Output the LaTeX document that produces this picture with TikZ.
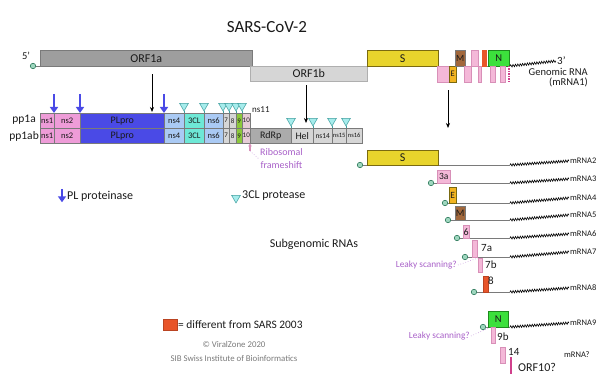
\documentclass[tikz,border=0pt]{standalone}
\usepackage{fontspec}
\setmainfont{Carlito}
\usepackage{tikz}
\usetikzlibrary{positioning,arrows.meta,shapes.geometric,decorations.pathmorphing}
\definecolor{scGray}{HTML}{7A7A7A}
\definecolor{scOrfA}{HTML}{9E9E9E}
\definecolor{scOrfB}{HTML}{D6D6D6}
\definecolor{scS}{HTML}{E8D42C}
\definecolor{scSD}{HTML}{7A6A10}
\definecolor{scE}{HTML}{F2B420}
\definecolor{scM}{HTML}{A2683C}
\definecolor{scPink}{HTML}{F4B8D8}
\definecolor{scPinkD}{HTML}{D890B8}
\definecolor{scRed}{HTML}{E8552A}
\definecolor{scN}{HTML}{3CE03C}
\definecolor{scND}{HTML}{1E8A1E}
\definecolor{scNs}{HTML}{EE9CD8}
\definecolor{scPL}{HTML}{4A4AE6}
\definecolor{scBlueL}{HTML}{AACAF4}
\definecolor{scCL}{HTML}{6EE8D6}
\definecolor{scSmall}{HTML}{D6D6D6}
\definecolor{scNine}{HTML}{8CC83C}
\definecolor{scTen}{HTML}{E6CCD6}
\definecolor{scRdRp}{HTML}{ABABAB}
\definecolor{scTri}{HTML}{A6ECEC}
\definecolor{scTriD}{HTML}{3E9E9E}
\definecolor{scCap}{HTML}{9ED6BE}
\definecolor{scCapD}{HTML}{2E7A5C}
\definecolor{scPurple}{HTML}{A860C8}
\definecolor{scMagenta}{HTML}{D0408C}
\definecolor{scText}{HTML}{1A1A1A}
\tikzset{
  sc-box/.style={
    draw=scGray, line width=0.5pt, inner sep=0pt, anchor=north west,
    minimum height=15pt, font=\fontsize{8.5}{9}\selectfont, text=scText
  },
  sc-orf/.style={sc-box, font=\fontsize{12}{13}\selectfont},
  sc-tiny/.style={sc-box, font=\fontsize{7}{7}\selectfont},
  sc-pink/.style={sc-box, draw=scPinkD, fill=scPink, minimum height=16pt},
  sc-tri/.style={regular polygon, regular polygon sides=3,
    shape border rotate=180, draw=scTriD, fill=scTri, line width=0.5pt,
    minimum size=10pt, inner sep=0pt},
  sc-stem/.style={draw=scTriD, line width=0.6pt},
  sc-pl/.style={-{Triangle[length=6pt,width=8pt]}, line width=2.6pt, draw=scPL},
  sc-flow/.style={-{Stealth[length=5pt,width=4pt]}, line width=0.7pt, draw=black},
  sc-fs/.style={-{Triangle[length=3pt,width=3.5pt]}, line width=1.2pt, draw=scPinkD},
  sc-line/.style={draw=scGray, line width=0.9pt},
  sc-wave/.style={draw=black, line width=0.6pt, decorate,
    decoration={snake, amplitude=1.2pt, segment length=2.4pt}},
  sc-orf10/.style={draw=scMagenta, line width=1.2pt},
  sc-cap/.style={circle, draw=scCapD, fill=scCap, line width=0.6pt,
    minimum size=5.5pt, inner sep=0pt},
  sc-label/.style={font=\fontsize{8.5}{9}\selectfont, text=scText, inner sep=1pt},
  sc-num/.style={sc-label, anchor=west, font=\fontsize{11}{12}\selectfont},
  sc-mrna/.style={sc-label, anchor=west},
  sc-note/.style={font=\fontsize{9.3}{10}\selectfont, text=scPurple, inner sep=1pt},
  sc-dot/.style={draw=scPurple!70, line width=0.6pt, dotted},
  sc-legend/.style={font=\fontsize{12}{14}\selectfont, text=scText, inner sep=1pt},
  sc-copy/.style={font=\fontsize{8.8}{10}\selectfont, text=scGray},
  sc-title/.style={font=\fontsize{17}{19}\selectfont, text=scText}
}

\begin{document}
\begin{tikzpicture}[x=1pt,y=-1pt]
\useasboundingbox (0,0) rectangle (600,387);

% genome
\node[sc-title] (title) at (267,27) {SARS-CoV-2};
\node[sc-cap] (cap0) at (33,66) {};
\node[sc-label, font=\fontsize{10.5}{11}\selectfont] (p5) at (26,56) {5'};
\coordinate (g3) at (510,66);
\draw[sc-line] (cap0) -- (g3);
\node[sc-orf, fill=scOrfA, minimum width=212pt, minimum height=16pt] (orf1a) at (40,50) {ORF1a};
\node[sc-orf, fill=scOrfB, draw=scGray!60, minimum width=117pt] (orf1b) at (250,66) {ORF1b};
\node[sc-orf, fill=scS, draw=scSD, minimum width=71pt, minimum height=16pt] (gS) at (367,50) {S};
\node[sc-pink, minimum width=12pt] (g3a) at (437,66) {};
\node[sc-box, fill=scE, draw=scSD, minimum width=7pt, minimum height=16pt] (gE) at (449,66) {E};
\node[sc-box, fill=scM, font=\fontsize{9.5}{10}\selectfont, minimum width=10pt, minimum height=16pt] (gM) at (455,50) {M};
\node[sc-pink, minimum width=7pt] (g6) at (464,66) {};
\node[sc-pink, minimum width=7pt] (g7a) at (471,50) {};
\node[sc-pink, minimum width=3pt] (g7b) at (478,66) {};
\node[sc-box, fill=scRed, draw=scRed, minimum width=4pt, minimum height=16pt] (g8) at (482,50) {};
\node[sc-box, fill=scN, draw=scND, font=\fontsize{10.5}{11}\selectfont, minimum width=21pt, minimum height=16pt] (gN) at (488,50) {N};
\node[sc-pink, minimum width=5pt] (g9b) at (490,66) {};
\node[sc-pink, minimum width=5pt] (g14) at (500,66) {};
\coordinate (g10) at (509,66);
\draw[sc-orf10, dash pattern=on 1.5pt off 1pt] (g10) -- ++(0,16);
\node[sc-label, font=\fontsize{11}{12}\selectfont, anchor=west] (g3p) at (556,61) {3'};
\draw[sc-wave] (g3) -- (g3p.west);
\node[sc-label, font=\fontsize{10.5}{10.5}\selectfont, align=right, anchor=north east] (grna) at (589,67) {Genomic RNA\\(mRNA1)};

% cleavage arrows
\coordinate (cut1) at (152,112);
\draw[sc-flow, shorten <=8pt] (orf1a.south -| cut1) -- (cut1);
\coordinate (cut2) at (306,123);
\draw[sc-flow, shorten <=4pt] (orf1b.south -| cut2) -- (cut2);
\coordinate (sgArr) at (448,128);
\draw[sc-flow, shorten <=8pt] (gE.south -| sgArr) -- (sgArr);

% polyproteins
\node[sc-label, font=\fontsize{11.5}{12}\selectfont, anchor=east] (pp1a) at (37,120) {pp1a};
\node[sc-label, font=\fontsize{11.5}{12}\selectfont, anchor=east] (pp1ab) at (40,136) {pp1ab};
\node[sc-box, fill=scNs, minimum width=14pt] (ns1a) at (40,113) {ns1};
\node[sc-box, fill=scNs, minimum width=26pt] (ns2a) at (54,113) {ns2};
\node[sc-box, fill=scPL, font=\fontsize{10}{11}\selectfont, minimum width=84pt] (plpa) at (80,113) {PLpro};
\node[sc-box, fill=scBlueL, minimum width=20pt] (ns4a) at (164,113) {ns4};
\node[sc-box, fill=scCL, minimum width=20pt] (cla) at (184,113) {3CL};
\node[sc-box, fill=scBlueL, minimum width=19pt] (ns6a) at (204,113) {ns6};
\node[sc-tiny, fill=scSmall, minimum width=6pt] (ns7a) at (223,113) {7};
\node[sc-tiny, fill=scSmall, minimum width=7pt] (ns8a) at (229,113) {8};
\node[sc-tiny, fill=scNine, minimum width=6pt] (ns9a) at (236,113) {9};
\node[sc-tiny, fill=scTen, minimum width=8pt] (ns10a) at (242,113) {10};
\node[sc-label, font=\fontsize{9}{10}\selectfont, anchor=west] (ns11) at (251,110) {ns11};
\node[sc-box, fill=scNs, minimum width=14pt] (ns1b) at (40,128) {ns1};
\node[sc-box, fill=scNs, minimum width=26pt] (ns2b) at (54,128) {ns2};
\node[sc-box, fill=scPL, font=\fontsize{10}{11}\selectfont, minimum width=84pt] (plpb) at (80,128) {PLpro};
\node[sc-box, fill=scBlueL, minimum width=20pt] (ns4b) at (164,128) {ns4};
\node[sc-box, fill=scCL, minimum width=20pt] (clb) at (184,128) {3CL};
\node[sc-box, fill=scBlueL, minimum width=19pt] (ns6b) at (204,128) {ns6};
\node[sc-tiny, fill=scSmall, minimum width=6pt] (ns7b) at (223,128) {7};
\node[sc-tiny, fill=scSmall, minimum width=7pt] (ns8b) at (229,128) {8};
\node[sc-tiny, fill=scNine, minimum width=6pt] (ns9b) at (236,128) {9};
\node[sc-tiny, fill=scTen, minimum width=8pt] (ns10b) at (242,128) {10};
\node[sc-box, fill=scRdRp, font=\fontsize{10}{11}\selectfont, minimum width=41pt] (rdrp) at (250,128) {RdRp};
\node[sc-box, fill=scSmall, font=\fontsize{10}{11}\selectfont, minimum width=22pt] (hel) at (291,128) {Hel};
\node[sc-box, fill=scSmall, font=\fontsize{7.5}{8}\selectfont, minimum width=19pt] (ns14) at (313,128) {ns14};
\node[sc-box, fill=scSmall, font=\fontsize{6.5}{7}\selectfont, minimum width=14pt] (ns15) at (332,128) {ns15};
\node[sc-box, fill=scSmall, font=\fontsize{6.5}{7}\selectfont, minimum width=16pt] (ns16) at (346,128) {ns16};

% PL proteinase sites
\coordinate (pl1) at (54,94);
\draw[sc-pl] (pl1) -- (pl1 |- ns1a.north);
\coordinate (pl2) at (80,94);
\draw[sc-pl] (pl2) -- (pl2 |- ns2a.north);
\coordinate (pl3) at (164,94);
\draw[sc-pl] (pl3) -- (pl3 |- plpa.north);

% 3CL protease sites
\node[sc-tri] (t1) at (184,106) {};
\draw[sc-stem] (t1.south) -- (t1 |- cla.north);
\node[sc-tri] (t2) at (204,106) {};
\draw[sc-stem] (t2.south) -- (t2 |- cla.north);
\node[sc-tri] (t3) at (223,106) {};
\draw[sc-stem] (t3.south) -- (t3 |- ns6a.north);
\node[sc-tri] (t4) at (229,106) {};
\draw[sc-stem] (t4.south) -- (t4 |- ns7a.north);
\node[sc-tri] (t5) at (236,106) {};
\draw[sc-stem] (t5.south) -- (t5 |- ns8a.north);
\node[sc-tri] (t6) at (242,106) {};
\draw[sc-stem] (t6.south) -- (t6 |- ns9a.north);
\node[sc-tri] (t7) at (291,121) {};
\draw[sc-stem] (t7.south) -- (t7 |- hel.north);
\node[sc-tri] (t8) at (313,121) {};
\draw[sc-stem] (t8.south) -- (t8 |- hel.north);
\node[sc-tri] (t9) at (332,121) {};
\draw[sc-stem] (t9.south) -- (t9 |- ns14.north);
\node[sc-tri] (t10) at (346,121) {};
\draw[sc-stem] (t10.south) -- (t10 |- ns15.north);

% ribosomal frameshift
\coordinate (fs) at (250,151);
\draw[sc-fs] (fs) -- (fs |- ns10b.south);
\node[sc-note, font=\fontsize{10}{13}\selectfont, align=center, anchor=west] (fstxt) at (259,159) {Ribosomal\\frameshift};
\draw[sc-dot] (fs) -- (fstxt.west);

% legend
\coordinate (lgpl) at (62,189);
\node[sc-legend, anchor=west] (lgpltxt) at (66,196) {PL proteinase};
\draw[sc-pl] (lgpl) -- (lgpl |- lgpltxt.south);
\node[sc-tri] (lgtri) at (236,198) {};
\node[sc-legend, anchor=west] (lgtritxt) at (241,196) {3CL protease};

% subgenomic RNAs
\node[sc-legend] (subg) at (314,244) {Subgenomic RNAs};

\node[sc-cap] (cap2) at (360,165) {};
\coordinate (j2) at (510,165);
\draw[sc-line] (cap2) -- (j2);
\node[sc-orf, fill=scS, draw=scSD, minimum width=71pt] (s2) at (367,150) {S};
\node[sc-mrna] (mrna2) at (569,161) {mRNA2};
\draw[sc-wave] (j2) -- (mrna2.west);

\node[sc-cap] (cap3) at (431,183) {};
\coordinate (j3) at (510,183);
\draw[sc-line] (cap3) -- (j3);
\node[sc-pink, font=\fontsize{9.5}{10}\selectfont, minimum width=13pt, minimum height=13pt] (b3a) at (437,170) {3a};
\node[sc-mrna] (mrna3) at (569,179) {mRNA3};
\draw[sc-wave] (j3) -- (mrna3.west);

\node[sc-cap] (cap4) at (445,203) {};
\coordinate (j4) at (510,203);
\draw[sc-line] (cap4) -- (j4);
\node[sc-box, fill=scE, draw=scSD, font=\fontsize{9.5}{10}\selectfont, minimum width=7pt, minimum height=16pt] (e4) at (449,187) {E};
\node[sc-mrna] (mrna4) at (569,198) {mRNA4};
\draw[sc-wave] (j4) -- (mrna4.west);

\node[sc-cap] (cap5) at (448,220) {};
\coordinate (j5) at (510,220);
\draw[sc-line] (cap5) -- (j5);
\node[sc-box, fill=scM, font=\fontsize{10}{10}\selectfont, minimum width=10pt, minimum height=14pt] (m5) at (455,206) {M};
\node[sc-mrna] (mrna5) at (569,215) {mRNA5};
\draw[sc-wave] (j5) -- (mrna5.west);

\node[sc-cap] (cap6) at (457,238) {};
\coordinate (j6) at (510,238);
\draw[sc-line] (cap6) -- (j6);
\node[sc-pink, font=\fontsize{10}{10}\selectfont, minimum width=6pt, minimum height=13pt] (b6) at (463,225) {6};
\node[sc-mrna] (mrna6) at (569,234) {mRNA6};
\draw[sc-wave] (j6) -- (mrna6.west);

\node[sc-cap] (cap7) at (465,257) {};
\coordinate (j7) at (510,257);
\draw[sc-line] (cap7) -- (j7);
\node[sc-pink, minimum width=5pt, minimum height=17pt] (b7a) at (472,240) {};
\node[sc-num] (l7a) at (480,248) {7a};
\node[sc-mrna] (mrna7) at (569,252) {mRNA7};
\draw[sc-wave] (j7) -- (mrna7.west);
\node[sc-pink, minimum width=4pt, minimum height=14pt] (b7b) at (478,258) {};
\node[sc-num] (l7b) at (484,265) {7b};
\node[sc-note, anchor=east] (leaky1) at (458,265) {Leaky scanning?};
\draw[sc-dot] (leaky1.east) -- (b7b.north west);

\node[sc-cap] (cap8) at (474,292) {};
\coordinate (j8) at (510,292);
\draw[sc-line] (cap8) -- (j8);
\node[sc-box, fill=scRed, draw=scRed!80!black, minimum width=5pt, minimum height=16pt] (b8) at (483,276) {};
\node[sc-num] (l8) at (487,281) {8};
\node[sc-mrna] (mrna8) at (569,288) {mRNA8};
\draw[sc-wave] (j8) -- (mrna8.west);

\node[sc-cap] (cap9) at (483,327) {};
\coordinate (j9) at (510,327);
\draw[sc-line] (cap9) -- (j9);
\node[sc-box, fill=scN, draw=scND, font=\fontsize{10.5}{11}\selectfont, minimum width=20pt, minimum height=16pt] (n9) at (488,311) {N};
\node[sc-mrna] (mrna9) at (569,323) {mRNA9};
\draw[sc-wave] (j9) -- (mrna9.west);
\node[sc-pink, minimum width=4pt, minimum height=16pt] (b9b) at (491,327) {};
\node[sc-num] (l9b) at (496,337) {9b};
\node[sc-note, anchor=east] (leaky2) at (471,336) {Leaky scanning?};
\draw[sc-dot] (leaky2.east) -- (b9b.north west);

\node[sc-pink, minimum width=5pt, minimum height=16pt] (b14) at (500,347) {};
\node[sc-num] (l14) at (507,352) {14};
\coordinate (o10) at (511,357);
\draw[sc-orf10] (o10) -- ++(0,17);
\node[sc-num, font=\fontsize{12}{13}\selectfont] (lorf10) at (517,367) {ORF10?};
\node[sc-mrna] (mrnaq) at (563,355) {mRNA?};

% difference legend
\node[sc-box, fill=scRed, draw=scRed!80!black, minimum width=14pt, minimum height=11pt] (lgred) at (163,319) {};
\node[sc-legend, font=\fontsize{11.4}{13}\selectfont, anchor=west, inner sep=0.5pt] (lgredtxt) at (lgred.east) {= different from SARS 2003};
\node[sc-copy] (copy1) at (234,344) {© ViralZone 2020};
\node[sc-copy] (copy2) at (234,358) {SIB Swiss Institute of Bioinformatics};
\end{tikzpicture}
\end{document}
